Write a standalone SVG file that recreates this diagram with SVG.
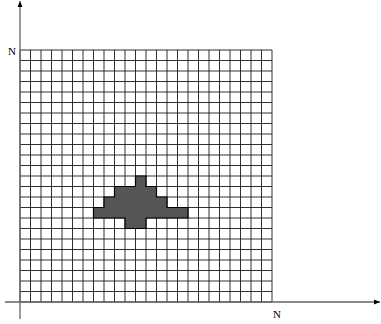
<svg xmlns="http://www.w3.org/2000/svg" width="381" height="324" viewBox="0 0 381 324">
<style>
.grid{stroke:#1a1a1a;stroke-width:0.9;fill:none}
.axis{stroke:#666;stroke-width:1.3;fill:none}
.shape{fill:#555;stroke:#000;stroke-width:1.2}
.lbl{font-family:"Liberation Serif","Times New Roman",serif;font-size:11px;fill:#000}
</style>
<defs>
<marker id="arr" viewBox="0 0 10 10" refX="10" refY="5" markerWidth="6" markerHeight="6" markerUnits="userSpaceOnUse" orient="auto">
<path d="M0,1 L10,5 L0,9 Z" fill="#000"/>
</marker>
</defs>
<rect x="20" y="50" width="252" height="252" fill="#fff"/>
<g id="grid" class="grid">
<path d="M20,50V302M30.5,50V302M41,50V302M51.5,50V302M62,50V302M72.5,50V302M83,50V302M93.5,50V302M104,50V302M114.5,50V302M125,50V302M135.5,50V302M146,50V302M156.5,50V302M167,50V302M177.5,50V302M188,50V302M198.5,50V302M209,50V302M219.5,50V302M230,50V302M240.5,50V302M251,50V302M261.5,50V302M272,50V302"/>
<path d="M20,50H272M20,60.5H272M20,71H272M20,81.5H272M20,92H272M20,102.5H272M20,113H272M20,123.5H272M20,134H272M20,144.5H272M20,155H272M20,165.5H272M20,176H272M20,186.5H272M20,197H272M20,207.5H272M20,218H272M20,228.5H272M20,239H272M20,249.5H272M20,260H272M20,270.5H272M20,281H272M20,291.5H272M20,302H272"/>
</g>
<g id="region">
<path class="shape" d="M135.5,176H146V186.5H156.5V197H167V207.5H188V218H146V228.5H125V218H93.5V207.5H104V197H114.5V186.5H135.5Z"/>
</g>
<g id="axes" class="axis">
<path d="M5,302H380" marker-end="url(#arr)"/>
<path d="M20,319V1" marker-end="url(#arr)"/>
</g>
<g id="labels">
<text class="lbl" x="8" y="55">N</text>
<text class="lbl" x="273" y="318">N</text>
</g>
</svg>
